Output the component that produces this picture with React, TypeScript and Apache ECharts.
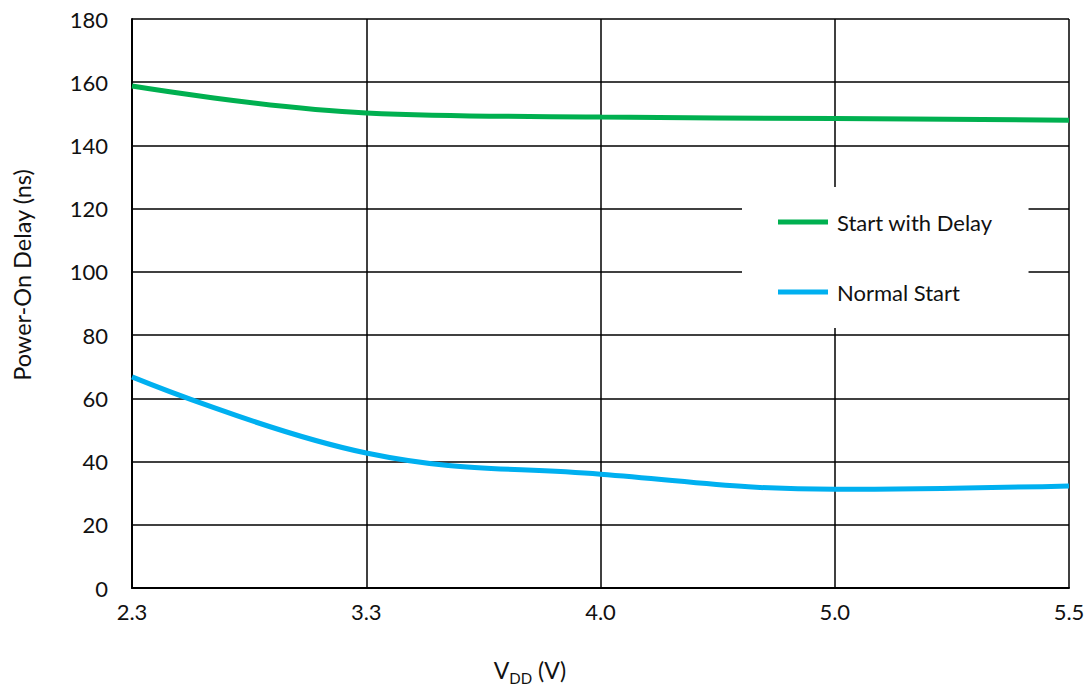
import React, { useEffect, useRef } from "react";
import * as echarts from "echarts";

const categories = ["2.3", "3.3", "4.0", "5.0", "5.5"];
const startWithDelay = [158.8, 150.3, 149, 148.5, 148];
const normalStart = [66.8, 42.7, 36, 31.2, 32.3];
const yTicks = { min: 0, max: 180, interval: 20 };

const FONT = "Lato, 'Open Sans', sans-serif";

export default function App() {
  const ref = useRef<HTMLDivElement>(null);
  useEffect(() => {
    if (!ref.current) return;
    const chart = echarts.init(ref.current, null, { renderer: "svg" });
    chart.setOption({
      animation: false,
      backgroundColor: "#ffffff",
      textStyle: { fontFamily: FONT },
      grid: { left: 132, right: 23, top: 19, bottom: 99, containLabel: false },
      legend: {
        orient: "vertical",
        left: 742,
        top: 187,
        padding: [24, 36, 25, 36],
        backgroundColor: "#ffffff",
        itemWidth: 50,
        itemHeight: 5,
        itemGap: 48,
        icon: "rect",
        textStyle: { fontSize: 22, color: "#111", fontFamily: FONT, lineHeight: 22, padding: [0, 0, 0, 4] },
        data: ["Start with Delay", "Normal Start"],
      },
      xAxis: {
        type: "category",
        data: categories,
        boundaryGap: false,
        axisLine: { lineStyle: { color: "#000", width: 2 } },
        axisTick: { show: false },
        axisLabel: { color: "#111", fontSize: 22, margin: 12, fontFamily: FONT },
        splitLine: { show: true, lineStyle: { color: "#000", width: 1.5 } },
      },
      yAxis: {
        type: "value",
        min: yTicks.min,
        max: yTicks.max,
        interval: yTicks.interval,
        axisLine: { show: true, lineStyle: { color: "#000", width: 2 } },
        axisTick: { show: false },
        axisLabel: { color: "#111", fontSize: 22, margin: 24, fontFamily: FONT },
        splitLine: { show: true, lineStyle: { color: "#000", width: 1.5 } },
      },
      series: [
        {
          name: "Start with Delay",
          type: "line",
          data: startWithDelay,
          smooth: 0.4,
          symbol: "none",
          lineStyle: { color: "#00b050", width: 5 },
          itemStyle: { color: "#00b050" },
        },
        {
          name: "Normal Start",
          type: "line",
          data: normalStart,
          smooth: 0.4,
          symbol: "none",
          lineStyle: { color: "#00b0f0", width: 5 },
          itemStyle: { color: "#00b0f0" },
        },
      ],
      graphic: [
        {
          type: "text",
          x: 22,
          y: 275,
          rotation: Math.PI / 2,
          style: {
            text: "Power-On Delay (ns)",
            fontSize: 23.5,
            fontFamily: FONT,
            fill: "#111",
            align: "center",
            verticalAlign: "middle",
          },
        },
        {
          type: "text",
          x: 530,
          y: 670,
          style: {
            text: "{v|V}{s|DD}{v| (V)}",
            align: "center",
            verticalAlign: "middle",
            rich: {
              v: { fontSize: 23, fontFamily: FONT, fill: "#111", verticalAlign: "top", lineHeight: 24 },
              s: { fontSize: 15, fontFamily: FONT, fill: "#111", verticalAlign: "top", lineHeight: 16, padding: [12, 0, 0, 0] },
            },
          },
        },
      ],
    });
    return () => chart.dispose();
  }, []);
  return (
    <div
      ref={ref}
      style={{ position: "fixed", left: 0, top: 0, width: 1092, height: 687 }}
    />
  );
}
